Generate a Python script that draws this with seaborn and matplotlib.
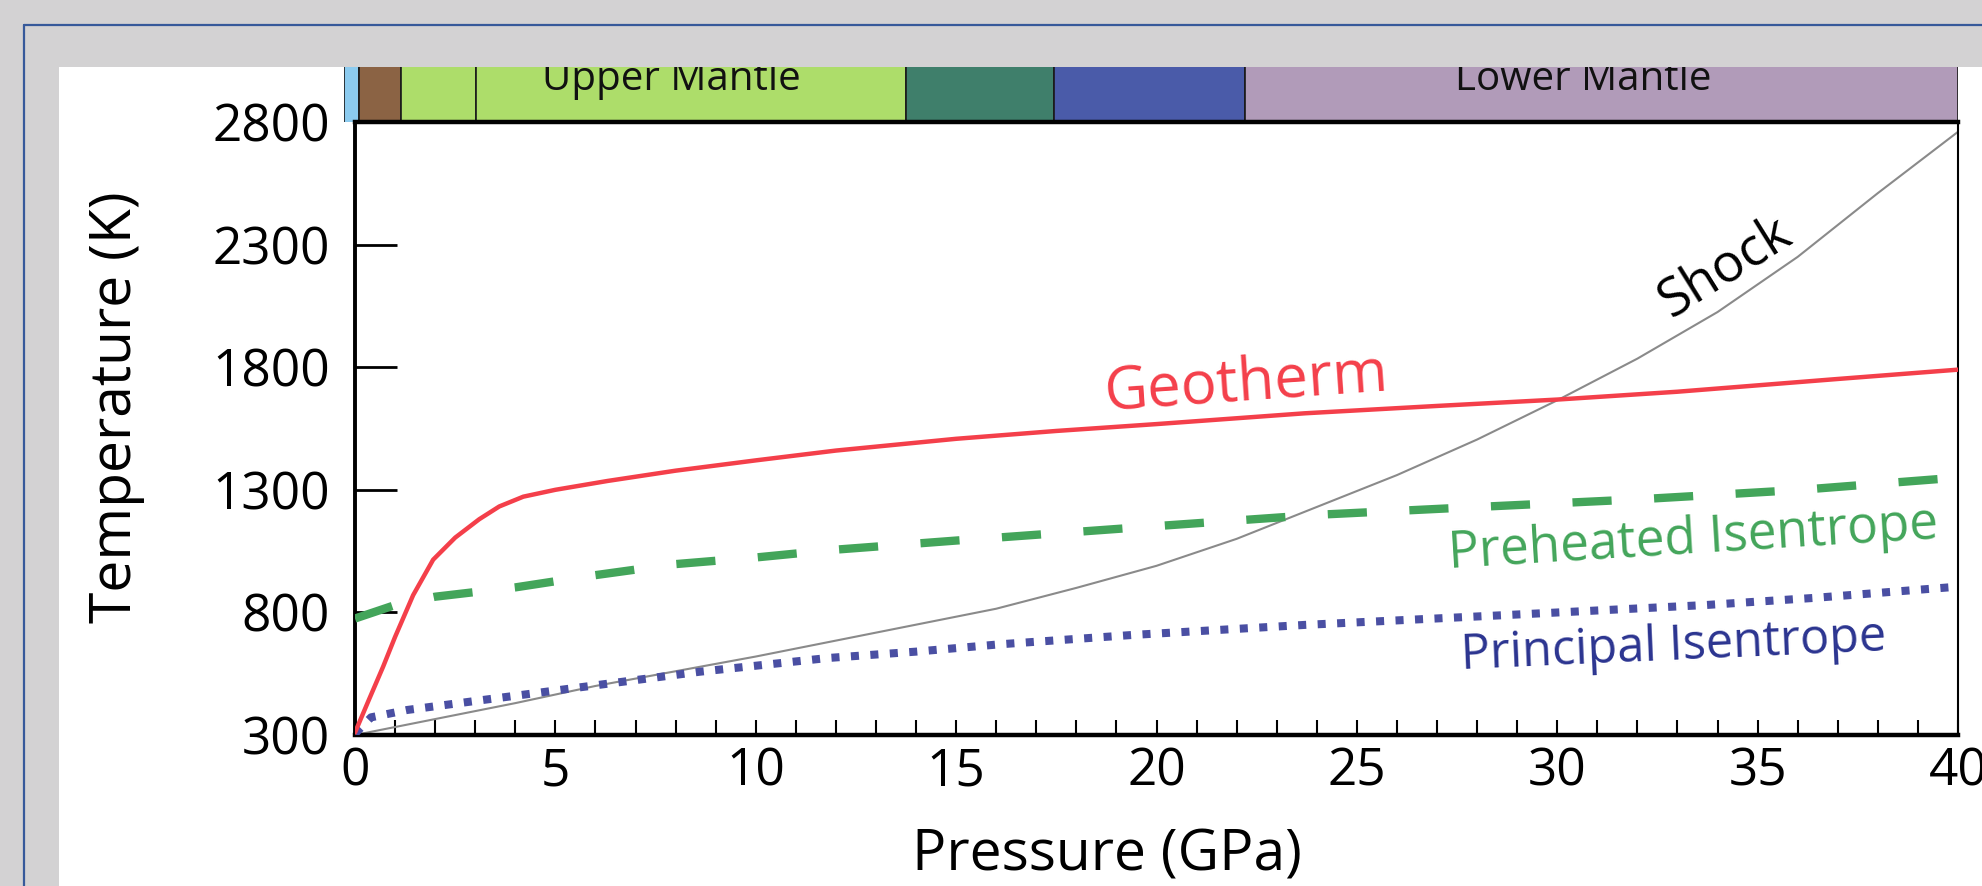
import numpy as np
import matplotlib
matplotlib.use("Agg")
import matplotlib.pyplot as plt
import seaborn as sns
from matplotlib.patches import Rectangle
from matplotlib.lines import Line2D
from matplotlib.ticker import MultipleLocator

# ---------------- data ----------------
geo_p = [0, 0.35, 0.7, 1.0, 1.45, 1.95, 2.5, 3.1, 3.6, 4.2, 5, 6.3, 8, 10, 12, 15, 17.5, 20, 23.7, 27, 30, 33, 37, 40]
geo_t = [310, 445, 578, 700, 870, 1015, 1105, 1180, 1232, 1272, 1300, 1336, 1378, 1420, 1460, 1508, 1540, 1568, 1612, 1642, 1668, 1700, 1752, 1790]

pre_p = [0, 1, 2, 4, 6, 8, 10, 12, 15, 20, 24, 28, 32, 36, 40]
pre_t = [775, 830, 864, 902, 952, 997, 1024, 1056, 1093, 1152, 1198, 1230, 1261, 1299, 1350]

pri_p = [0, 0.4, 1.3, 3.2, 5.5, 8.6, 11.8, 14, 16.1, 19.4, 23.7, 28.7, 33.7, 36.4, 40]
pri_t = [305, 372, 402, 443, 492, 558, 614, 640, 670, 708, 749, 789, 830, 859, 905]

shock_p = [0, 2, 4, 6, 8, 10, 12, 14, 16, 18, 20, 22, 24, 26, 28, 30, 32, 34, 36, 38, 40]
shock_t = [300, 365, 430, 500, 560, 620, 685, 750, 815, 900, 990, 1100, 1230, 1360, 1505, 1665, 1835, 2025, 2250, 2510, 2760]

y_ticks = [300, 800, 1300, 1800, 2300, 2800]

band_start = [-0.27, 0.1, 1.15, 3.02, 13.74, 17.45, 22.2]
band_end = [0.1, 1.15, 3.02, 13.74, 17.45, 22.2, 40.0]
band_colors = ["#8ccbef", "#8b6344", "#addd6a", "#addd6a", "#3f7f6b", "#4a5ba9", "#b19bb9"]
band_labels = ["Upper Mantle", "Lower Mantle"]
band_label_p = [7.9, 30.65]

# ---------------- style ----------------
sns.set_theme(style="white")
plt.rcParams["font.family"] = ["Open Sans", "DejaVu Sans"]

W, H = 1982, 886
fig = plt.figure(figsize=(W / 100, H / 100), dpi=100, facecolor="#d3d2d3")

# window-like frame
fig.patches.append(Rectangle((59 / W, 0), 1 - 59 / W, 1 - 67 / H, transform=fig.transFigure,
                             facecolor="white", edgecolor="none", zorder=-2))
fig.lines.append(Line2D([24 / W, 1], [1 - 25 / H, 1 - 25 / H], transform=fig.transFigure,
                        color="#36599a", lw=1.6, zorder=-1))
fig.lines.append(Line2D([24 / W, 24 / W], [0, 1 - 25 / H], transform=fig.transFigure,
                        color="#36599a", lw=1.6, zorder=-1))

x0, x1, ytop, ybot = 355, 1958, 122, 735
ax = fig.add_axes([x0 / W, 1 - ybot / H, (x1 - x0) / W, (ybot - ytop) / H])
ax.set_zorder(1)

red = "#f43f4a"
green = "#43a55a"
blue = "#4a4fa3"
navy = "#2b3490"
gray = "#8a8a8a"

sns.lineplot(x=shock_p, y=shock_t, ax=ax, color=gray, linewidth=1.5, zorder=2)
sns.lineplot(x=pri_p, y=pri_t, ax=ax, color=blue, linewidth=5.8, zorder=3)
ln = ax.lines[-1]
ln.set_dashes((1, 1.42))
ln.set_dash_capstyle("butt")
sns.lineplot(x=pre_p, y=pre_t, ax=ax, color=green, linewidth=6, zorder=4)
ln = ax.lines[-1]
ln.set_dashes((4.7, 5.1))
ln.set_dash_capstyle("butt")
sns.lineplot(x=geo_p, y=geo_t, ax=ax, color=red, linewidth=3.2, zorder=5)
ax.lines[-1].set_solid_joinstyle("round")

ax.set_xlim(0, 40)
ax.set_ylim(300, 2800)
ax.xaxis.set_major_locator(MultipleLocator(5))
ax.xaxis.set_minor_locator(MultipleLocator(1))
ax.set_yticks(y_ticks)
ax.tick_params(axis="x", which="both", direction="in", length=11, width=1.5, color="black",
               labelsize=37, labelcolor="black", pad=8, bottom=True, top=False)
ax.tick_params(axis="y", which="major", direction="in", length=30, width=2, color="black",
               labelsize=37, labelcolor="black", pad=18, left=True, right=False)

for side, lw in [("left", 2.8), ("bottom", 3.2), ("top", 3.2), ("right", 1.5)]:
    ax.spines[side].set_visible(True)
    ax.spines[side].set_linewidth(lw)
    ax.spines[side].set_color("black")

ax.set_xlabel("Pressure (GPa)", fontsize=41, color="black")
ax.xaxis.set_label_coords(0.469, -0.2215)
ax.xaxis.label.set_va("baseline")
ax.set_ylabel("Temperature (K)", fontsize=41, color="black")
ax.yaxis.set_label_coords(-0.1485, 0.535)
ax.yaxis.label.set_va("center")

ax.text(22.23, 1735, "Geotherm", color=red, fontsize=43, rotation=4, ha="center", va="center",
        rotation_mode="anchor")
ax.text(34.2, 2205, "Shock", color="black", fontsize=38, rotation=32, ha="center", va="center",
        rotation_mode="anchor")
ax.text(33.4, 1095, "Preheated Isentrope", color=green, fontsize=37, rotation=3.5, ha="center",
        va="center", rotation_mode="anchor")
ax.text(32.9, 659, "Principal Isentrope", color=navy, fontsize=35, rotation=2.5, ha="center",
        va="center", rotation_mode="anchor")

# ---------------- top layer band ----------------
bl = x0 + band_start[0] * (x1 - x0) / 40.0
axb = fig.add_axes([bl / W, 1 - ytop / H, (x1 - bl) / W, (ytop - 67) / H])
axb.set_zorder(0)
axb.barh(y=0.6, width=np.array(band_end) - np.array(band_start), left=band_start, height=1.4,
         color=band_colors, edgecolor="#1a1a1a", linewidth=1.2)
axb.set_xlim(band_start[0], 40)
axb.set_ylim(0, 1)
for lab, p in zip(band_labels, band_label_p):
    axb.text(p, 0.58, lab, ha="center", va="baseline", fontsize=29, color="#111111", clip_on=True)
axb.set_axis_off()

fig.savefig("out.png", dpi=100, facecolor=fig.get_facecolor())
